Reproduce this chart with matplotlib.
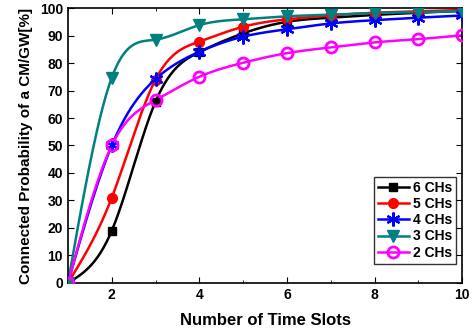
import numpy as np
import matplotlib
matplotlib.use("Agg")
import matplotlib.pyplot as plt
from matplotlib.ticker import MultipleLocator

time_slots = [1, 2, 3, 4, 5, 6, 7, 8, 9, 10]
ch6 = [0, 19, 66, 84, 90.8, 95, 96.5, 97.5, 98.3, 99]
ch5 = [0, 31, 74, 87.8, 93.2, 95.9, 97.3, 98.3, 98.8, 99.3]
ch4 = [0, 50, 74.2, 84.1, 89.6, 92.3, 94.4, 95.6, 96.5, 97.3]
ch3 = [0, 74.7, 88.5, 93.8, 95.9, 97, 97.6, 98.2, 98.5, 98.9]
ch2 = [0, 50, 66.5, 75, 80.1, 83.6, 85.7, 87.5, 88.7, 90.1]
labels = ["6 CHs", "5 CHs", "4 CHs", "3 CHs", "2 CHs"]


def natural_spline(x, y, n=400):
    x = np.asarray(x, float)
    y = np.asarray(y, float)
    m = len(x)
    h = np.diff(x)
    A = np.zeros((m, m))
    b = np.zeros(m)
    A[0, 0] = 1
    A[-1, -1] = 1
    for i in range(1, m - 1):
        A[i, i - 1] = h[i - 1]
        A[i, i] = 2 * (h[i - 1] + h[i])
        A[i, i + 1] = h[i]
        b[i] = 6 * ((y[i + 1] - y[i]) / h[i] - (y[i] - y[i - 1]) / h[i - 1])
    M = np.linalg.solve(A, b)
    xs = np.linspace(x[0], x[-1], n)
    idx = np.clip(np.searchsorted(x, xs) - 1, 0, m - 2)
    x0, x1 = x[idx], x[idx + 1]
    hh = x1 - x0
    t0 = x1 - xs
    t1 = xs - x0
    ys = (M[idx] * t0 ** 3 / (6 * hh) + M[idx + 1] * t1 ** 3 / (6 * hh)
          + (y[idx] / hh - M[idx] * hh / 6) * t0
          + (y[idx + 1] / hh - M[idx + 1] * hh / 6) * t1)
    return xs, ys


plt.rcParams['font.family'] = ['Liberation Sans', 'DejaVu Sans']
plt.rcParams['font.weight'] = 'bold'

fig = plt.figure(figsize=(4.72, 3.36), dpi=100)
ax = fig.add_axes([0.144, 0.158, 0.835, 0.818])

styles = [
    dict(color='black', marker='s', ms=6, mfc='black'),
    dict(color='#FF0000', marker='o', ms=7, mfc='#FF0000'),
    dict(color='#0000FF', marker=(6, 2, 0), ms=10, mfc='#0000FF', mew=1.6),
    dict(color='#008080', marker='v', ms=8, mfc='#008080'),
    dict(color='#FF00FF', marker='o', ms=8, mfc='none', mew=2),
]
series = [ch6, ch5, ch4, ch3, ch2]
handles = []
for data, st, lab in zip(series, styles, labels):
    xs, ys = natural_spline(time_slots, data)
    ax.plot(xs, ys, color=st['color'], lw=1.8, zorder=2)
    ax.plot(time_slots, data, linestyle='none', marker=st['marker'], ms=st['ms'],
            mfc=st['mfc'], mec=st['color'], mew=st.get('mew', 1), zorder=3)
    h, = ax.plot([], [], color=st['color'], lw=1.8, marker=st['marker'], ms=st['ms'],
                 mfc=st['mfc'], mec=st['color'], mew=st.get('mew', 1), label=lab)
    handles.append(h)

ax.set_xlim(1, 10)
ax.set_ylim(0, 100)
ax.xaxis.set_major_locator(MultipleLocator(2))
ax.xaxis.set_minor_locator(MultipleLocator(1))
ax.yaxis.set_major_locator(MultipleLocator(10))
ax.tick_params(which='both', direction='in', top=True, right=True, labelsize=10)
ax.tick_params(which='major', length=4)
ax.tick_params(which='minor', length=2.5)
ax.set_xticks([2, 4, 6, 8, 10])
for lab in ax.get_xticklabels() + ax.get_yticklabels():
    lab.set_fontweight('bold')
for s in ax.spines.values():
    s.set_linewidth(1.2)

ax.set_xlabel('Number of Time Slots', fontsize=12, fontweight='bold', labelpad=8)
ax.set_ylabel('Connected Probability of a CM/GW[%]', fontsize=11, fontweight='bold', labelpad=5)

leg = ax.legend(handles=handles, loc='lower right', bbox_to_anchor=(0.985, 0.07),
                fontsize=10, frameon=True, fancybox=False, edgecolor='black',
                handlelength=2.2, handletextpad=0.3, borderpad=0.3, labelspacing=0.15,
                borderaxespad=0)
leg.get_frame().set_linewidth(1.0)
for t in leg.get_texts():
    t.set_fontweight('bold')

fig.savefig('out.png', dpi=100)
